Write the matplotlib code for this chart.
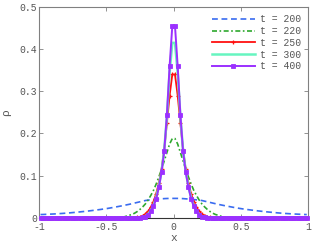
import numpy as np
import matplotlib
matplotlib.use("Agg")
import matplotlib.pyplot as plt

# grid cell centres on the positive half, the curves are symmetric about x = 0
x_half = [0.01, 0.03, 0.05, 0.07, 0.09, 0.11, 0.13, 0.15, 0.17, 0.19,
          0.21, 0.23, 0.25, 0.27, 0.29, 0.31, 0.33, 0.35, 0.37, 0.39,
          0.41, 0.43, 0.45, 0.47, 0.49, 0.51, 0.53, 0.55, 0.57, 0.59,
          0.61, 0.63, 0.65, 0.67, 0.69, 0.71, 0.73, 0.75, 0.77, 0.79,
          0.81, 0.83, 0.85, 0.87, 0.89, 0.91, 0.93, 0.95, 0.97, 0.99]

rho_200 = [0.046, 0.046, 0.0458, 0.0455, 0.045, 0.0445, 0.0438, 0.0432, 0.0426, 0.042,
           0.041, 0.0395, 0.038, 0.0365, 0.035, 0.0335, 0.032, 0.0307, 0.0294, 0.0281,
           0.0269, 0.0257, 0.0245, 0.0234, 0.0223, 0.0213, 0.0204, 0.0195, 0.0187, 0.0179,
           0.0171, 0.0163, 0.0156, 0.0149, 0.0142, 0.0136, 0.013, 0.0124, 0.0118, 0.0113,
           0.0108, 0.0103, 0.0099, 0.0095, 0.0091, 0.0088, 0.0085, 0.0082, 0.0079, 0.0077]

rho_220 = [0.188, 0.175, 0.155, 0.135, 0.115, 0.097, 0.08, 0.065, 0.053, 0.042,
           0.033, 0.026, 0.02, 0.015, 0.011, 0.008, 0.006, 0.004, 0.002, 0.001] + [0.0] * 30

rho_250 = [0.34, 0.29, 0.225, 0.162, 0.115, 0.082, 0.057, 0.038, 0.025, 0.015,
           0.009, 0.005, 0.002, 0.001] + [0.0] * 36

rho_300 = [0.415, 0.345, 0.24, 0.16, 0.11, 0.075, 0.048, 0.03, 0.017, 0.009,
           0.004, 0.002] + [0.0] * 38

rho_400 = [0.455, 0.36, 0.245, 0.158, 0.108, 0.072, 0.045, 0.027, 0.015, 0.007,
           0.003, 0.001] + [0.0] * 38

labels = ["t = 200", "t = 220", "t = 250", "t = 300", "t = 400"]


def mirror(half):
    # full profile from -0.99 to 0.99
    return np.concatenate([half[::-1], half])


x = np.concatenate([-np.array(x_half[::-1]), np.array(x_half)])

plt.rcParams["font.family"] = ["Liberation Mono", "DejaVu Sans Mono"]
fig = plt.figure(figsize=(3.16, 2.42), dpi=100)
ax = fig.add_axes([0.124, 0.1, 0.851, 0.871])

ax.plot(x, mirror(rho_200), "--", color="#3a6cf0", lw=1.2, dashes=(3.5, 2.2),
        label=labels[0], clip_on=False, zorder=3)
ax.plot(x, mirror(rho_220), "-.", color="#2ea82e", lw=1.2, dashes=(3, 1.5, 1, 1.5),
        label=labels[1], clip_on=False, zorder=3)
ax.plot(x, mirror(rho_250), "-", color="#ff1010", lw=1.3, marker="+", ms=3.5,
        mew=0.9, label=labels[2], clip_on=False, zorder=3)
ax.plot(x, mirror(rho_300), "-", color="#66f5c0", lw=1.8, label=labels[3],
        clip_on=False, zorder=3)
ax.plot(x, mirror(rho_400), "-", color="#9b30ff", lw=1.4, marker="s", ms=2.6,
        mew=0.6, label=labels[4], clip_on=False, zorder=4)

ax.set_xlim(-1, 1)
ax.set_ylim(0, 0.5)
ax.set_xticks([-1, -0.5, 0, 0.5, 1])
ax.set_xticklabels(["-1", "-0.5", "0", "0.5", "1"])
ax.set_yticks([0, 0.1, 0.2, 0.3, 0.4, 0.5])
ax.set_yticklabels(["0", "0.1", "0.2", "0.3", "0.4", "0.5"])
ax.tick_params(direction="in", length=3, width=0.6, colors="#808080",
               labelcolor="#555555", labelsize=7, top=True, right=True)
ax.tick_params(axis="x", pad=3.3)
ax.tick_params(axis="y", pad=1.5)
for s in ax.spines.values():
    s.set_color("#808080")
    s.set_linewidth(0.8)
    s.set_zorder(1)
ax.spines["bottom"].set_color("#333333")

ax.set_xlabel("x", fontsize=8, color="#555555", labelpad=0.3)
ax.set_ylabel("ρ", fontsize=8, color="#555555", labelpad=6)

leg = ax.legend(loc="upper right", frameon=False, fontsize=7, handlelength=4.4,
                handletextpad=0.5, labelspacing=0.18, borderaxespad=0.35,
                labelcolor="#555555")

fig.savefig("out.png", dpi=100)
